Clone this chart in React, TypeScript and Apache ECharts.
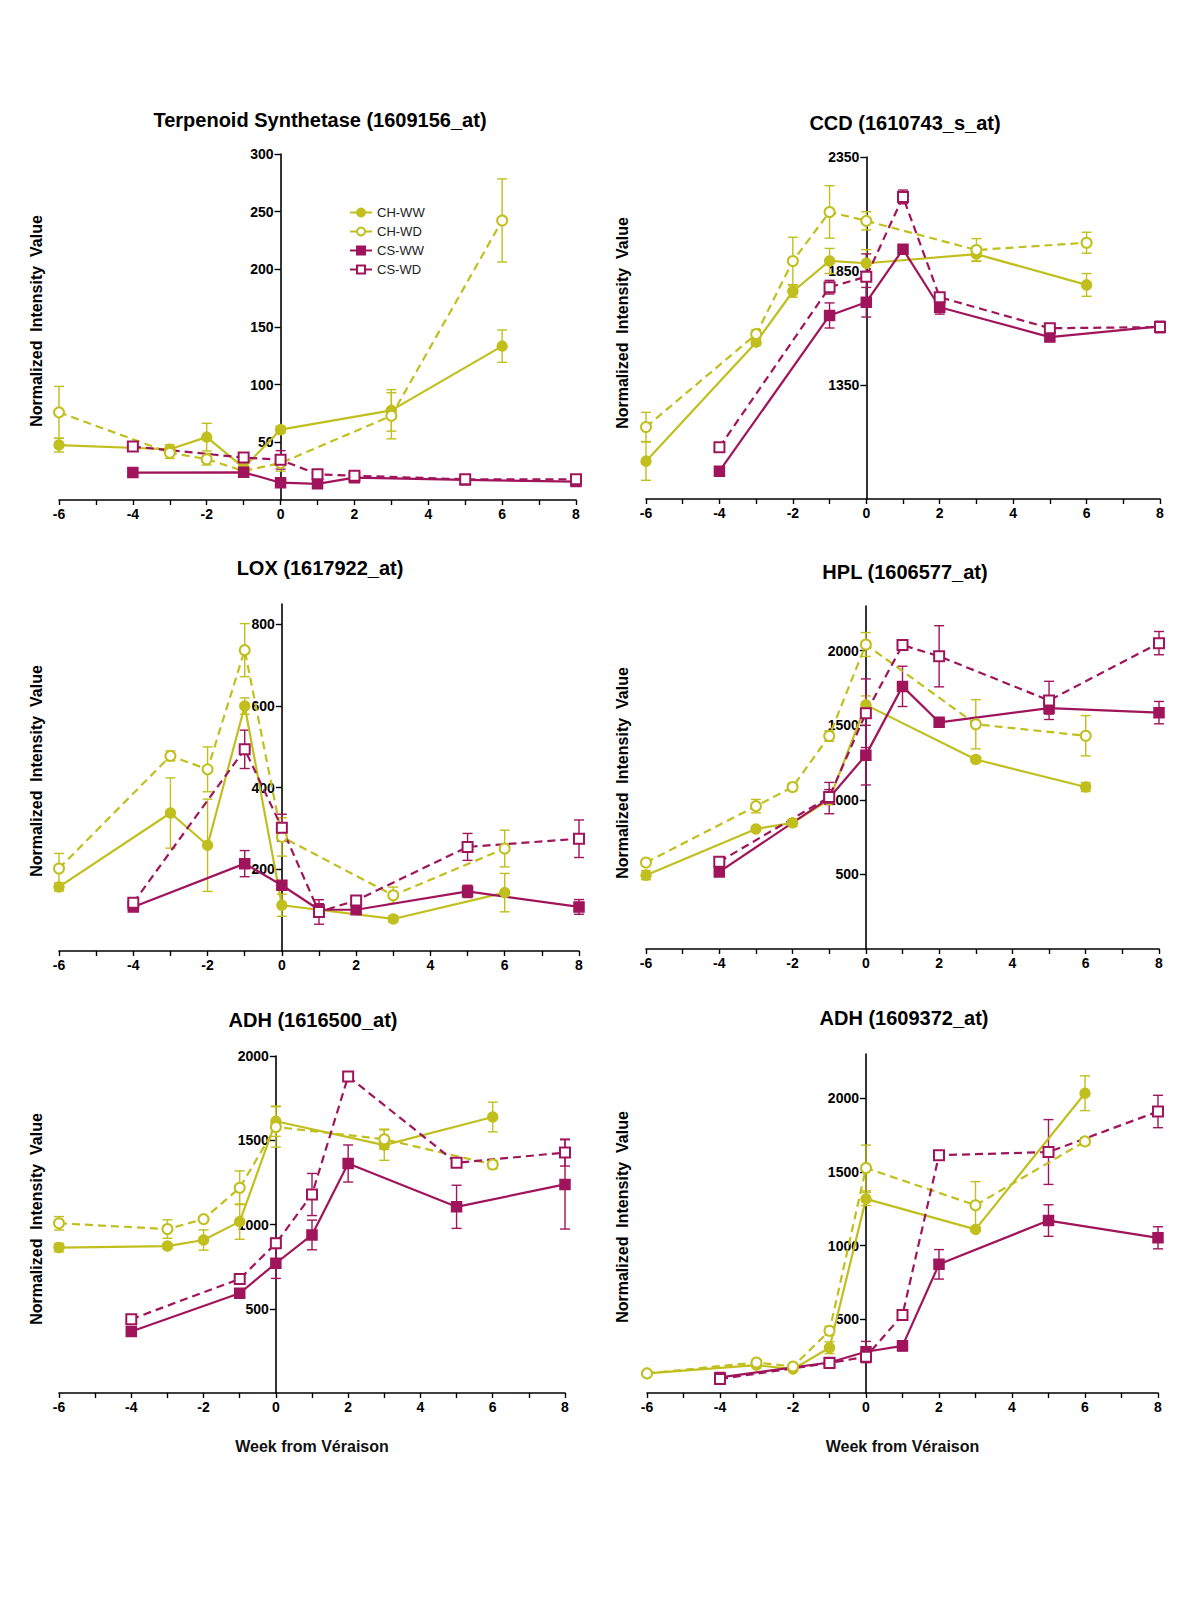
import React, { useEffect, useRef } from "react";
import * as echarts from "echarts";

// ---------- DATA ----------
const chWeeks = [-6, -3, -2, -1, 0, 3, 6];
const csWeeks = [-4, -1, 0, 1, 2, 5, 8];
const seriesNames = ["CH-WW", "CH-WD", "CS-WW", "CS-WD"];

// Terpenoid Synthetase (1609156_at)
const terpChWW = [47.6, 44, 54.5, 28, 61, 77.7, 133.4];
const terpChWWErr = [6, 4, 12, 5, 3, 18, 14];
const terpChWD = [76, 41, 35.4, 25.2, 32, 73, 242.4];
const terpChWDErr = [22.5, 5, 5, 4, 7, 20, 36];
const terpCsWW = [23.8, 24, 15, 14, 19.4, 17.4, 16];
const terpCsWWErr = [2, 2, 3, 3, 2, 2, 2];
const terpCsWD = [46.4, 36.8, 34.8, 22.3, 21, 18, 18];
const terpCsWDErr = [2, 4, 8, 3, 2, 2, 2];

// CCD (1610743_s_at)
const ccdChWW = [1016, 1538, 1760, 1894, 1884, 1924, 1789];
const ccdChWWErr = [84, 15, 25, 55, 60, 30, 50];
const ccdChWD = [1166, 1573, 1894, 2109, 2070, 1942, 1974];
const ccdChWDErr = [64, 20, 104, 115, 40, 50, 46];
const ccdCsWW = [972, 1655, 1713, 1945, 1691, 1560, 1607];
const ccdCsWWErr = [10, 55, 65, 15, 30, 10, 20];
const ccdCsWD = [1077, 1779, 1825, 2175, 1735, 1599, 1604];
const ccdCsWDErr = [10, 30, 100, 30, 15, 20, 25];

// LOX (1617922_at)
const loxChWW = [157, 338, 259, 600, 112, 78.5, 143];
const loxChWWErr = [10, 86, 113, 20, 27, 8, 47];
const loxChWD = [202, 478, 445, 737, 279.5, 136.5, 251];
const loxChWDErr = [37, 12, 55, 65, 47, 20, 45];
const loxCsWW = [108, 214, 161, 101, 101, 146, 108];
const loxCsWWErr = [10, 32, 10, 15, 8, 15, 18];
const loxCsWD = [118, 494, 302, 95.6, 124, 255, 275];
const loxCsWDErr = [10, 47, 33, 30, 10, 33, 46];

// HPL (1606577_at)
const hplChWW = [495, 805, 846, 1000, 1637, 1271, 1086];
const hplChWWErr = [30, 15, 25, 20, 60, 20, 30];
const hplChWD = [580, 958, 1086, 1428, 2042, 1507, 1430];
const hplChWDErr = [15, 45, 25, 35, 80, 165, 135];
const hplCsWW = [517, 1012, 1300, 1761, 1520, 1615, 1585];
const hplCsWWErr = [25, 105, 200, 135, 30, 40, 75];
const hplCsWD = [585, 1019, 1581, 2038, 1963, 1667, 2051];
const hplCsWDErr = [10, 50, 230, 20, 205, 128, 78];

// ADH (1616500_at)
const adhAChWW = [863, 872, 908, 1017, 1613, 1471, 1638];
const adhAChWWErr = [25, 15, 60, 105, 90, 90, 88];
const adhAChWD = [1007, 973, 1032, 1218, 1579, 1506, 1356];
const adhAChWDErr = [40, 55, 10, 100, 120, 60, 25];
const adhACsWW = [365, 592, 770, 938, 1362, 1105, 1238];
const adhACsWWErr = [15, 25, 90, 88, 110, 128, 265];
const adhACsWD = [438, 677, 888, 1178, 1879, 1366, 1427];
const adhACsWDErr = [25, 15, 30, 125, 15, 15, 80];

// ADH (1609372_at)
const adhBChWW = [133, 189, 162, 307, 1317, 1110, 2034];
const adhBChWWErr = [10, 10, 10, 40, 45, 10, 118];
const adhBChWD = [133, 207, 180, 422, 1527, 1274, 1707];
const adhBChWDErr = [10, 15, 10, 30, 155, 160, 25];
const adhBCsWW = [106, 207, 280, 320, 873, 1170, 1053];
const adhBCsWWErr = [10, 20, 70, 35, 100, 107, 75];
const adhBCsWD = [95, 203, 246, 530, 1613, 1635, 1910];
const adhBCsWDErr = [10, 10, 40, 15, 15, 220, 110];

const xTicks = [-6, -4, -2, 0, 2, 4, 6, 8];
const xMin = -6;
const xMax = 8;

// ---------- STYLE / LAYOUT ----------
const YEL = "#c1bf1e";
const MAG = "#a0145b";
const FONT = '"Liberation Sans", Arial, Helvetica, sans-serif';

const panels = [
  {
    title: "Terpenoid Synthetase (1609156_at)",
    values: [terpChWW, terpChWD, terpCsWW, terpCsWD],
    errs: [terpChWWErr, terpChWDErr, terpCsWWErr, terpCsWDErr],
    yMin: 0, yMax: 300, yInt: 50,
    grid: { left: 59, top: 154, width: 517, height: 346 },
    titlePos: [320, 120], yLabelPos: [36, 321], xName: "",
  },
  {
    title: "CCD (1610743_s_at)",
    values: [ccdChWW, ccdChWD, ccdCsWW, ccdCsWD],
    errs: [ccdChWWErr, ccdChWDErr, ccdCsWWErr, ccdCsWDErr],
    yMin: 850, yMax: 2350, yInt: 500,
    grid: { left: 646, top: 157, width: 514, height: 342 },
    titlePos: [905, 123], yLabelPos: [622, 323], xName: "",
  },
  {
    title: "LOX (1617922_at)",
    values: [loxChWW, loxChWD, loxCsWW, loxCsWD],
    errs: [loxChWWErr, loxChWDErr, loxCsWWErr, loxCsWDErr],
    yMin: 0, yMax: 850, yInt: 200,
    grid: { left: 59, top: 604, width: 520, height: 347 },
    titlePos: [320, 568], yLabelPos: [36, 771], xName: "",
  },
  {
    title: "HPL (1606577_at)",
    values: [hplChWW, hplChWD, hplCsWW, hplCsWD],
    errs: [hplChWWErr, hplChWDErr, hplCsWWErr, hplCsWDErr],
    yMin: 0, yMax: 2300, yInt: 500,
    grid: { left: 646, top: 606, width: 513, height: 343 },
    titlePos: [905, 572], yLabelPos: [622, 773], xName: "",
  },
  {
    title: "ADH (1616500_at)",
    values: [adhAChWW, adhAChWD, adhACsWW, adhACsWD],
    errs: [adhAChWWErr, adhAChWDErr, adhACsWWErr, adhACsWDErr],
    yMin: 0, yMax: 2000, yInt: 500,
    grid: { left: 59, top: 1056, width: 506, height: 337 },
    titlePos: [313, 1020], yLabelPos: [36, 1219], xName: "Week from Véraison",
  },
  {
    title: "ADH (1609372_at)",
    values: [adhBChWW, adhBChWD, adhBCsWW, adhBCsWD],
    errs: [adhBChWWErr, adhBChWDErr, adhBCsWWErr, adhBCsWDErr],
    yMin: 0, yMax: 2300, yInt: 500,
    grid: { left: 647, top: 1054, width: 511, height: 339 },
    titlePos: [904, 1018], yLabelPos: [622, 1217], xName: "Week from Véraison",
  },
];

const seriesStyles = [
  { color: YEL, symbol: "circle", dash: "solid", weeks: chWeeks },
  { color: YEL, symbol: "emptyCircle", dash: [8, 5], weeks: chWeeks },
  { color: MAG, symbol: "rect", dash: "solid", weeks: csWeeks },
  { color: MAG, symbol: "emptyRect", dash: [8, 5], weeks: csWeeks },
];

function errRender(color: string) {
  return (params: any, api: any) => {
    const x = api.value(0);
    const lo = api.value(1);
    const hi = api.value(2);
    const p1 = api.coord([x, lo]);
    const p2 = api.coord([x, hi]);
    const h = 5;
    const style = { stroke: color, lineWidth: 1.4, fill: "none" };
    return {
      type: "group",
      children: [
        { type: "line", shape: { x1: p1[0], y1: p1[1], x2: p2[0], y2: p2[1] }, style },
        { type: "line", shape: { x1: p1[0] - h, y1: p1[1], x2: p1[0] + h, y2: p1[1] }, style },
        { type: "line", shape: { x1: p2[0] - h, y1: p2[1], x2: p2[0] + h, y2: p2[1] }, style },
      ],
    };
  };
}

function buildOption() {
  const grids: any[] = [];
  const xAxes: any[] = [];
  const yAxes: any[] = [];
  const series: any[] = [];
  const graphics: any[] = [];

  panels.forEach((p, i) => {
    grids.push({ ...p.grid, containLabel: false });
    xAxes.push({
      type: "value",
      gridIndex: i,
      min: xMin,
      max: xMax,
      interval: 1,
      axisLine: { onZero: false, lineStyle: { color: "#000", width: 1.6 } },
      axisTick: { show: true, length: 5, lineStyle: { color: "#000", width: 1.4 } },
      splitLine: { show: false },
      axisLabel: {
        margin: 7,
        color: "#000",
        fontFamily: FONT,
        fontWeight: "bold",
        fontSize: 14,
        formatter: (v: number) => (xTicks.indexOf(v) >= 0 ? String(v) : ""),
      },
      name: p.xName,
      nameLocation: "middle",
      nameGap: 45,
      nameTextStyle: { color: "#111", fontFamily: FONT, fontWeight: "bold", fontSize: 16 },
    });
    // y axis sits at week 0
    const zeroOffset = -((0 - xMin) / (xMax - xMin)) * p.grid.width;
    yAxes.push({
      type: "value",
      gridIndex: i,
      position: "left",
      offset: zeroOffset,
      min: p.yMin,
      max: p.yMax,
      interval: p.yInt,
      axisLine: { show: true, onZero: false, lineStyle: { color: "#000", width: 1.6 } },
      axisTick: { show: true, length: 6, lineStyle: { color: "#000", width: 1.4 } },
      splitLine: { show: false },
      axisLabel: {
        margin: 7,
        color: "#000",
        fontFamily: FONT,
        fontWeight: "bold",
        fontSize: 14,
        showMinLabel: false,
        showMaxLabel: (p.yMax - p.yMin) % p.yInt === 0,
        formatter: (v: number) => String(v),
      },
    });

    seriesStyles.forEach((s, k) => {
      const vals = p.values[k];
      const errs = p.errs[k];
      series.push({
        type: "custom",
        name: "err-" + seriesNames[k],
        xAxisIndex: i,
        yAxisIndex: i,
        renderItem: errRender(s.color),
        encode: { x: 0, y: [1, 2] },
        data: s.weeks.map((w, j) => [w, vals[j] - errs[j], vals[j] + errs[j]]),
        z: 2,
        silent: true,
      });
    });
    seriesStyles.forEach((s, k) => {
      const vals = p.values[k];
      series.push({
        type: "line",
        name: seriesNames[k],
        xAxisIndex: i,
        yAxisIndex: i,
        data: s.weeks.map((w, j) => [w, vals[j]]),
        symbol: s.symbol,
        symbolSize: 10,
        showAllSymbol: true,
        lineStyle: { color: s.color, width: 2.2, type: s.dash },
        itemStyle: { color: s.color, borderColor: s.color, borderWidth: 1.5 },
        z: 3,
      });
    });

    graphics.push({
      type: "text",
      x: p.titlePos[0],
      y: p.titlePos[1],
      style: {
        text: p.title,
        font: "bold 20px " + FONT,
        fill: "#000",
        textAlign: "center",
        textVerticalAlign: "middle",
      },
    });
    graphics.push({
      type: "text",
      x: p.yLabelPos[0],
      y: p.yLabelPos[1],
      rotation: Math.PI / 2,
      style: {
        text: "Normalized  Intensity  Value",
        font: "bold 16px " + FONT,
        fill: "#000",
        textAlign: "center",
        textVerticalAlign: "middle",
      },
    });
  });

  return {
    animation: false,
    backgroundColor: "#fff",
    grid: grids,
    xAxis: xAxes,
    yAxis: yAxes,
    series,
    graphic: graphics,
    legend: {
      data: seriesNames,
      orient: "vertical",
      left: 344,
      top: 201,
      itemWidth: 22,
      itemHeight: 10,
      itemGap: 6,
      selectedMode: false,
      lineStyle: { type: "solid" },
      textStyle: { fontFamily: FONT, fontSize: 13, color: "#222" },
    },
  };
}

export default function App() {
  const ref = useRef<HTMLDivElement>(null);
  useEffect(() => {
    if (!ref.current) return;
    const chart = echarts.init(ref.current, undefined, { renderer: "svg" });
    chart.setOption(buildOption() as any);
    return () => chart.dispose();
  }, []);
  return (
    <div
      ref={ref}
      style={{ position: "absolute", left: 0, top: 0, width: 1200, height: 1600, background: "#fff" }}
    />
  );
}
